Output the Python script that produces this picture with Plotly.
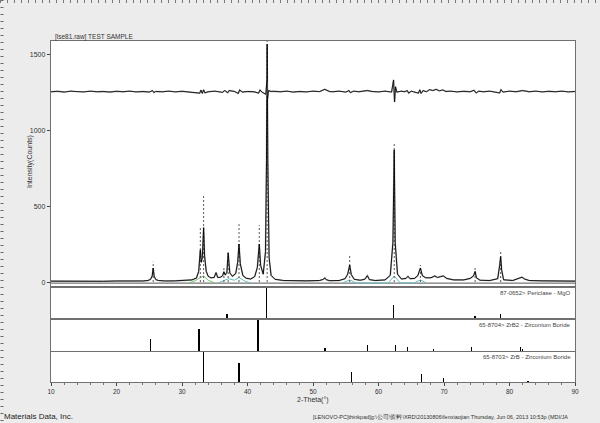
import plotly.graph_objects as go

# ---------------- data ----------------
obs_2theta = [10.0, 12.0, 14.0, 16.0, 18.0, 20.0, 22.0, 24.0, 24.8, 25.2, 25.45, 25.6, 25.75, 26.0, 26.4,
              27.5, 29.0, 30.5, 31.5, 32.2, 32.55, 32.8, 32.95, 33.1, 33.3, 33.45, 33.7, 34.0, 34.4, 34.9,
              35.2, 35.45, 35.9, 36.2, 36.4, 36.6, 36.85, 37.05, 37.3, 37.7, 38.2, 38.5, 38.7, 38.9, 39.3,
              39.8, 40.5, 41.1, 41.5, 41.8, 42.0, 42.4, 42.75, 42.9, 43.0, 43.1, 43.3, 43.6, 44.2, 45.5,
              47.0, 49.0, 51.0, 51.6, 51.8, 52.0, 52.5, 54.0, 54.9, 55.3, 55.6, 55.85, 56.3, 57.2, 57.9,
              58.3, 58.6, 59.5, 61.0, 61.8, 62.2, 62.4, 62.55, 62.9, 63.5, 64.2, 64.5, 64.8, 65.5, 66.0,
              66.4, 66.7, 67.2, 68.0, 68.6, 69.0, 69.5, 69.9, 70.4, 71.5, 73.0, 74.0, 74.5, 74.75, 74.95,
              75.5, 77.0, 78.2, 78.5, 78.65, 78.8, 79.1, 80.5, 81.5, 81.9, 82.3, 83.0, 85.0, 87.0, 90.0]
obs_counts = [6, 5, 7, 6, 5, 7, 6, 7, 10, 18, 40, 92, 38, 16, 10,
              7, 8, 9, 14, 26, 70, 212, 130, 160, 358, 170, 70, 38, 28, 30,
              62, 30, 32, 42, 68, 46, 64, 190, 60, 38, 56, 130, 250, 120, 42,
              25, 20, 36, 96, 250, 110, 52, 200, 800, 1565, 800, 160, 44, 18, 10,
              8, 8, 10, 18, 28, 16, 9, 10, 22, 52, 112, 48, 18, 12, 18,
              42, 16, 10, 14, 44, 260, 870, 260, 52, 20, 24, 38, 22, 24, 42,
              92, 42, 28, 28, 40, 30, 36, 40, 24, 14, 14, 24, 40, 70, 28,
              12, 10, 22, 110, 168, 80, 15, 10, 24, 32, 20, 10, 8, 7, 6]

bkg_2theta = [10.0, 30.0, 50.0, 70.0, 90.0]
bkg_counts = [-7, -6, -7, -6, -7]

comp_a_2theta = [31.0, 32.0, 32.8, 33.3, 34.0, 35.0]
comp_a_counts = [-6, 8, 30, 40, 12, -6]
comp_b_2theta = [35.5, 36.4, 37.1, 38.0, 38.7, 39.6, 40.5]
comp_b_counts = [-6, 10, 22, 12, 30, 6, -6]
comp_c_2theta = [54.5, 55.6, 56.6, 61.5, 62.4, 63.3, 65.5, 66.4, 67.3]
comp_c_counts = [-6, 14, -6, -6, 40, -6, -4, 14, -6]

diff_2theta = [10, 11, 12, 13, 14, 15, 16, 17, 18, 19, 20, 21, 22, 23, 24, 25.0, 25.5, 25.7, 26.0, 27, 28,
               29, 30, 31, 32.0, 32.7, 32.9, 33.1, 33.3, 33.5, 34.0, 35.0, 36.2, 36.5, 37.0, 37.2, 38.0,
               38.6, 38.8, 39.2, 40.0, 41.0, 41.7, 41.9, 42.2, 42.8, 42.95, 43.05, 43.2, 43.6, 44, 45, 46,
               47, 48, 49, 50, 51.0, 51.8, 52.5, 53, 54, 55.0, 55.5, 55.7, 56.2, 57, 58.3, 59, 60, 61,
               62.0, 62.3, 62.45, 62.6, 62.8, 63.5, 64.0, 64.4, 64.6, 65.0, 65.5, 66.1, 66.3, 66.5, 66.8,
               67.3, 67.8, 68.3, 68.8, 69.3, 69.8, 70.3, 71, 72, 73, 74.0, 74.6, 74.9, 75.3, 76, 77, 78.0,
               78.5, 78.7, 79.0, 80, 81, 82, 83, 84, 85, 86, 87, 88, 89, 90]
diff_counts = [1252, 1255, 1250, 1256, 1253, 1251, 1256, 1252, 1254, 1250, 1255, 1252, 1256, 1251, 1254,
               1250, 1260, 1247, 1254, 1252, 1256, 1251, 1255, 1252, 1250, 1243, 1263, 1241, 1265, 1245,
               1252, 1256, 1248, 1260, 1246, 1260, 1254, 1241, 1264, 1250, 1254, 1252, 1243, 1264, 1250,
               1235, 1320, 1200, 1260, 1254, 1255, 1252, 1256, 1250, 1254, 1251, 1256, 1253, 1268, 1254,
               1252, 1256, 1250, 1260, 1246, 1256, 1252, 1260, 1254, 1251, 1256, 1250, 1330, 1185, 1285,
               1250, 1256, 1252, 1260, 1243, 1256, 1250, 1243, 1265, 1241, 1260, 1252, 1266, 1260, 1268,
               1258, 1264, 1254, 1256, 1251, 1255, 1252, 1262, 1244, 1256, 1252, 1256, 1250, 1244, 1266,
               1250, 1256, 1252, 1260, 1252, 1256, 1251, 1255, 1252, 1256, 1251, 1254]

mark_2theta = [25.6, 32.8, 33.3, 36.4, 37.05, 38.7, 41.8, 43.0, 55.6, 62.4, 66.4, 74.75, 78.65]
mark_top = [134, 355, 572, 100, 200, 381, 375, 1586, 171, 915, 112, 92, 200]

mgo_2theta = [36.9, 42.9, 62.3, 74.7, 78.6]
mgo_rel = [12, 100, 45, 7, 13]
zrb2_2theta = [25.2, 32.6, 41.6, 51.8, 58.3, 62.6, 64.4, 68.4, 74.2, 81.7, 82.0]
zrb2_rel = [40, 72, 100, 11, 18, 18, 14, 7, 13, 12, 8]
zrb_2theta = [33.25, 38.7, 55.85, 66.6, 69.95, 82.8]
zrb_rel = [100, 64, 34, 28, 12, 5]

x_ticks = [10, 20, 30, 40, 50, 60, 70, 80, 90]
y_ticks = [0, 500, 1000, 1500]

panel_labels = ["87-0652> Periclase - MgO",
                "65-8704> ZrB2 - Zirconium Boride",
                "65-8703> ZrB - Zirconium Boride"]

# ---------------- figure ----------------
FONT = "Liberation Sans"
BORDER = "#707070"
W, H = 600, 423
L, R, T, B = 51, 25, 41, 41
PW, PH = W - L - R, H - T - B


def px_x(px):
    return (px - L) / PW


def px_y(py):
    return (H - B - py) / PH


fig = go.Figure()

# calculated profile (gray halo) and observed pattern
fig.add_trace(go.Scatter(x=obs_2theta, y=obs_counts, mode="lines",
                         line=dict(color="#b0b0b0", width=1.6), xaxis="x", yaxis="y"))
fig.add_trace(go.Scatter(x=bkg_2theta, y=bkg_counts, mode="lines",
                         line=dict(color="#555555", width=1), xaxis="x", yaxis="y"))
for cx, cy, col in [(comp_a_2theta, comp_a_counts, "#7cc47c"),
                    (comp_b_2theta, comp_b_counts, "#6cc0c0"),
                    (comp_c_2theta, comp_c_counts, "#6cc0c0")]:
    fig.add_trace(go.Scatter(x=cx, y=cy, mode="lines", line=dict(color=col, width=1),
                             xaxis="x", yaxis="y"))

# dashed peak markers
mx, my = [], []
for p, t in zip(mark_2theta, mark_top):
    mx += [p, p, None]
    my += [0, t, None]
fig.add_trace(go.Scatter(x=mx, y=my, mode="lines",
                         line=dict(color="#555555", width=1, dash="2px,2px"),
                         xaxis="x", yaxis="y"))

fig.add_trace(go.Scatter(x=obs_2theta, y=obs_counts, mode="lines",
                         line=dict(color="#000000", width=0.9), xaxis="x", yaxis="y"))

# difference curve
fig.add_trace(go.Scatter(x=diff_2theta, y=diff_counts, mode="lines",
                         line=dict(color="#9a9a9a", width=1.4), xaxis="x", yaxis="y"))
fig.add_trace(go.Scatter(x=diff_2theta, y=diff_counts, mode="lines",
                         line=dict(color="#000000", width=0.8), xaxis="x", yaxis="y"))

# reference stick patterns
for i, (sx, sy) in enumerate([(mgo_2theta, mgo_rel), (zrb2_2theta, zrb2_rel), (zrb_2theta, zrb_rel)]):
    n = i + 2
    fig.add_trace(go.Bar(x=sx, y=sy, width=0.22, marker=dict(color="#000000", line=dict(width=0)),
                         xaxis=f"x{n}", yaxis=f"y{n}"))

axis_common = dict(range=[10, 90], showline=True, mirror=True, linecolor=BORDER, linewidth=1.2,
                   showgrid=False, zeroline=False, fixedrange=True)

domains = {
    "": [px_y(286), 1.0],
    "2": [px_y(318), px_y(288)],
    "3": [px_y(351), px_y(320)],
    "4": [0.0, px_y(352)],
}

layout = dict(
    width=W, height=H, margin=dict(l=L, r=R, t=T, b=B),
    paper_bgcolor="#ececec", plot_bgcolor="#ffffff",
    showlegend=False, hovermode=False, bargap=0,
    font=dict(family=FONT, size=7, color="#333333"),
)
for k in ["", "2", "3", "4"]:
    xa = dict(axis_common, anchor=f"y{k}", domain=[0, 1], showticklabels=False, ticks="")
    if k == "4":
        xa.update(showticklabels=True, ticks="outside", ticklen=3, tickcolor="#444444",
                  tickvals=x_ticks, tickfont=dict(size=6.5, color="#333333"),
                  minor=dict(ticks="outside", ticklen=2, dtick=2, tickcolor="#777777"))
    else:
        xa.update(matches="x4")
    layout[f"xaxis{k}"] = xa
    ya = dict(showline=True, mirror=True, linecolor=BORDER, linewidth=1.2, showgrid=False,
              zeroline=False, anchor=f"x{k}", domain=domains[k], fixedrange=True)
    if k == "":
        ya.update(range=[-26, 1586], tickvals=y_ticks, ticks="outside", ticklen=3,
                  tickcolor="#444444", tickfont=dict(size=7, color="#333333"))
    else:
        ya.update(range=[0, 100], showticklabels=False, ticks="")
    layout[f"yaxis{k}"] = ya

fig.update_layout(**layout)

# panel labels
for lab, py in zip(panel_labels, [292.5, 324.5, 356.5]):
    fig.add_annotation(text=lab, xref="paper", yref="paper", x=px_x(573), y=px_y(py),
                       xanchor="right", yanchor="middle", showarrow=False,
                       font=dict(size=6, color="#444444", family=FONT))

# texts
fig.add_annotation(text="[lse81.raw] TEST SAMPLE", xref="paper", yref="paper", x=px_x(53), y=px_y(37),
                   xanchor="left", yanchor="middle", showarrow=False,
                   font=dict(size=6.5, color="#333333", family=FONT))
fig.add_annotation(text="Intensity(Counts)", xref="paper", yref="paper", x=px_x(30), y=px_y(162),
                   textangle=-90, xanchor="center", yanchor="middle", showarrow=False,
                   font=dict(size=7, color="#333333", family=FONT))
fig.add_annotation(text="2-Theta(°)", xref="paper", yref="paper", x=px_x(313), y=px_y(400),
                   xanchor="center", yanchor="middle", showarrow=False,
                   font=dict(size=7, color="#333333", family=FONT))
fig.add_annotation(text="Materials Data, Inc.", xref="paper", yref="paper", x=px_x(2), y=px_y(417),
                   xanchor="left", yanchor="middle", showarrow=False,
                   font=dict(size=8, color="#222222", family=FONT))
fig.add_annotation(text="[LENOVO-PC]thinkpad]g:\\公司\\资料\\XRD\\20130806\\fenxiaojian Thursday, Jun 06, 2013 10:53p (MDI/JA",
                   xref="paper", yref="paper", x=px_x(311), y=px_y(417),
                   xanchor="left", yanchor="middle", showarrow=False,
                   font=dict(size=5.5, color="#333333", family=FONT))

# window ruler decorations (left and top edges)
fig.add_shape(type="line", xref="paper", yref="paper", x0=px_x(2), x1=px_x(2), y0=px_y(0), y1=px_y(423),
              line=dict(color="#666666", width=3, dash="1px,6px"))
fig.add_shape(type="line", xref="paper", yref="paper", x0=px_x(0), x1=px_x(600), y0=px_y(1.5), y1=px_y(1.5),
              line=dict(color="#777777", width=3, dash="1px,6px"))

fig.write_html("out.html", config={"displayModeBar": False, "staticPlot": True},
               post_script="document.body.style.margin='0px';document.body.style.overflow='hidden';")
